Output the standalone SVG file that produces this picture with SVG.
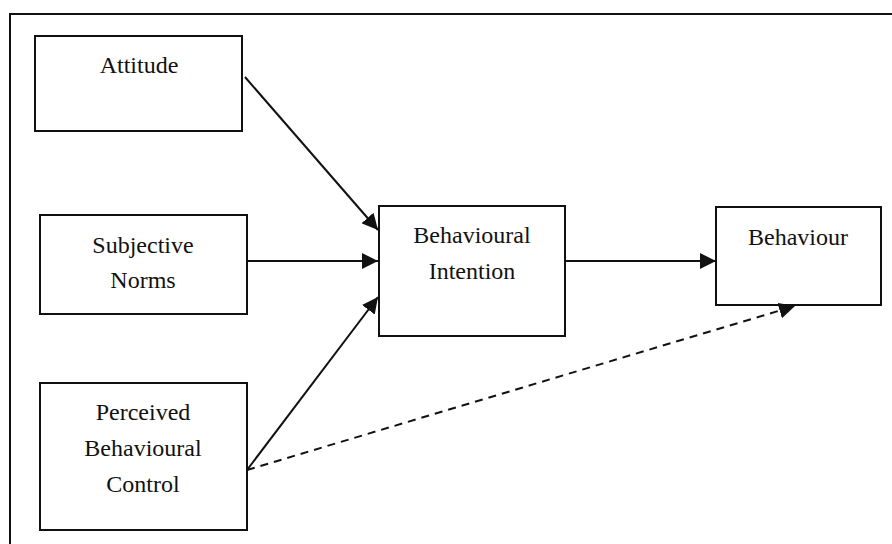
<svg xmlns="http://www.w3.org/2000/svg" width="892" height="544" viewBox="0 0 892 544">
<style>
.box{fill:#fff;stroke:#111;stroke-width:2}
.t{font-family:'Liberation Serif','Times New Roman','DejaVu Serif',serif;font-size:24px;fill:#111;text-anchor:middle}
.c{stroke:#111;stroke-width:2;fill:none}
</style>
<defs>
<marker id="ahb" viewBox="0 0 10 10" refX="10" refY="5" markerWidth="8" markerHeight="8" orient="auto">
<path d="M0,0 L10,5 L0,10 z" fill="#111"/>
</marker>
</defs>
<rect width="892" height="544" fill="#fff"/>
<g id="frame"><path d="M10,544 V14 H892" class="c"/></g>
<g id="attitude"><rect class="box" x="35" y="36" width="207" height="95"/><text class="t" x="139" y="73">Attitude</text></g>
<g id="norms"><rect class="box" x="40" y="215" width="207" height="99"/><text class="t" x="143" y="253">Subjective</text><text class="t" x="143" y="288">Norms</text></g>
<g id="pbc"><rect class="box" x="40" y="383" width="207" height="147"/><text class="t" x="143" y="420">Perceived</text><text class="t" x="143" y="456">Behavioural</text><text class="t" x="143" y="492">Control</text></g>
<g id="intention"><rect class="box" x="379" y="206" width="186" height="130"/><text class="t" x="472" y="243">Behavioural</text><text class="t" x="472" y="279">Intention</text></g>
<g id="behaviour"><rect class="box" x="716" y="207" width="165" height="98"/><text class="t" x="798" y="245">Behaviour</text></g>
<g id="connectors">
<line class="c" x1="245" y1="77" x2="378" y2="230" marker-end="url(#ahb)"/>
<line class="c" x1="247" y1="261" x2="378" y2="261" marker-end="url(#ahb)"/>
<line class="c" x1="247" y1="470" x2="378" y2="297" marker-end="url(#ahb)"/>
<line class="c" x1="565" y1="261" x2="716" y2="261" marker-end="url(#ahb)"/>
<line class="c" x1="247" y1="470" x2="795" y2="306" stroke-dasharray="8,6" marker-end="url(#ahb)"/>
</g>
</svg>
